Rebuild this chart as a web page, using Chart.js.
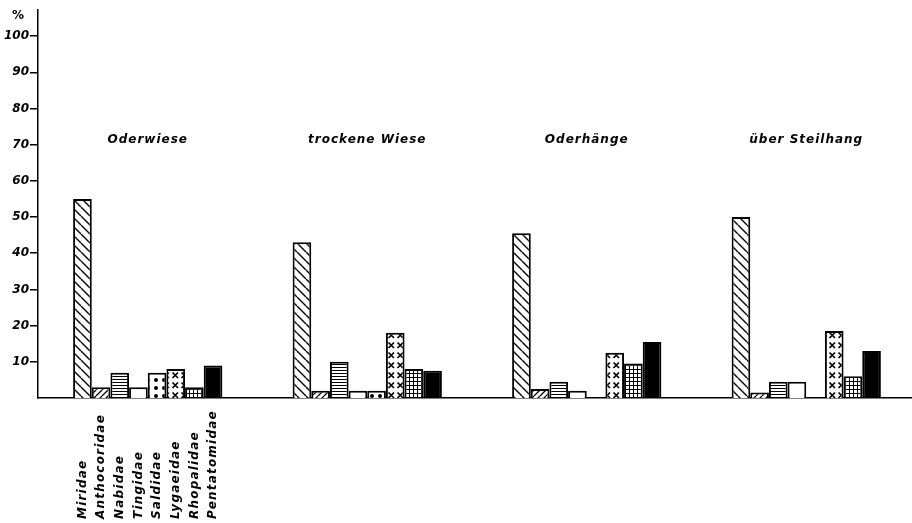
<!DOCTYPE html>
<html>
<head>
<meta charset="utf-8">
<script src="https://cdn.jsdelivr.net/npm/chart.js@4.4.1/dist/chart.umd.min.js"></script>
<style>
  html, body { margin: 0; padding: 0; background: #fff; overflow: hidden; }
  canvas { display: block; }
</style>
</head>
<body>
<canvas id="c" width="916" height="523"></canvas>
<script>
// Habitats (groups) and bug families (bars within each group)
const habitats = ['Oderwiese', 'trockene Wiese', 'Oderhänge', 'über Steilhang'];
const families = ['Miridae', 'Anthocoridae', 'Nabidae', 'Tingidae', 'Saldidae', 'Lygaeidae', 'Rhopalidae', 'Pentatomidae'];

// Share of each family per habitat, in %
const miridae       = [55, 43, 45.5, 50];
const anthocoridae  = [3, 2, 2.5, 1.5];
const nabidae       = [7, 10, 4.5, 4.5];
const tingidae      = [3, 2, 2, 4.5];
const saldidae      = [7, 2, 0, 0];
const lygaeidae     = [8, 18, 12.5, 18.5];
const rhopalidae    = [3, 8, 9.5, 6];
const pentatomidae  = [9, 7.5, 15.5, 13];

const yTicks = [10, 20, 30, 40, 50, 60, 70, 80, 90, 100];

// ---- fill patterns ----
function tile(w, h, draw) {
  const c = document.createElement('canvas');
  c.width = w; c.height = h;
  const g = c.getContext('2d');
  g.fillStyle = '#fff'; g.fillRect(0, 0, w, h);
  g.strokeStyle = '#000'; g.fillStyle = '#000';
  draw(g, w, h);
  return document.getElementById('c').getContext('2d').createPattern(c, 'repeat');
}
function hatch(s, back, lw) {
  return tile(s, s, (g) => {
    g.lineWidth = lw;
    g.beginPath();
    for (let k = -1; k <= 1; k++) {
      if (back) { g.moveTo(k * s, 0); g.lineTo(k * s + s, s); }
      else { g.moveTo(k * s, s); g.lineTo(k * s + s, 0); }
    }
    g.stroke();
  });
}
const fills = [
  hatch(9, true, 1.4),
  hatch(6, false, 1.3),
  tile(3, 3, (g) => { g.fillRect(0, 1, 3, 1); }),
  '#ffffff',
  tile(8, 8, (g) => { g.beginPath(); g.arc(4, 4, 2, 0, Math.PI * 2); g.fill(); }),
  tile(9, 10, (g) => {
    g.lineWidth = 1.7;
    g.beginPath();
    g.moveTo(1.5, 2.5); g.lineTo(7, 8);
    g.moveTo(7, 2.5); g.lineTo(1.5, 8);
    g.stroke();
  }),
  tile(4, 4, (g) => { g.fillRect(0, 1, 4, 1); g.fillRect(1, 0, 1, 4); }),
  '#000000'
];

const seriesValues = [miridae, anthocoridae, nabidae, tingidae, saldidae, lygaeidae, rhopalidae, pentatomidae];

const datasets = families.map((name, i) => ({
  label: name,
  data: seriesValues[i],
  backgroundColor: fills[i],
  borderColor: '#000',
  borderWidth: 2,
  borderSkipped: 'bottom',
  categoryPercentage: 0.68,
  barPercentage: 1.0
}));

// Habitat titles, family names under the first group and the % sign
const annotations = {
  id: 'annotations',
  afterDraw(chart) {
    const ctx = chart.ctx;
    const xs = chart.scales.x, ys = chart.scales.y;
    ctx.save();
    ctx.fillStyle = '#000';

    ctx.font = 'italic bold 12px "DejaVu Sans"';
    ctx.letterSpacing = '1px';
    ctx.textAlign = 'center';
    ctx.textBaseline = 'middle';
    habitats.forEach((h, i) => {
      ctx.fillText(h, xs.getPixelForValue(i), ys.getPixelForValue(71.4));
    });

    ctx.font = 'italic bold 12px "DejaVu Sans"';
    ctx.letterSpacing = '1.2px';
    ctx.textAlign = 'left';
    families.forEach((f, d) => {
      const bar = chart.getDatasetMeta(d).data[0];
      ctx.save();
      ctx.translate(bar.x, 519);
      ctx.rotate(-Math.PI / 2);
      ctx.fillText(f, 0, 0);
      ctx.restore();
    });

    ctx.letterSpacing = '0px';
    ctx.font = 'bold 12px "DejaVu Sans"';
    ctx.textAlign = 'center';
    ctx.fillText('%', 18, 16);
    ctx.restore();
  }
};

new Chart(document.getElementById('c'), {
  type: 'bar',
  data: { labels: habitats, datasets },
  options: {
    responsive: false,
    animation: false,
    layout: { padding: { top: 10, left: 0, right: 0, bottom: 0 } },
    plugins: { legend: { display: false }, tooltip: { enabled: false } },
    scales: {
      x: {
        grid: { display: false },
        ticks: { display: false },
        border: { display: true, color: '#000', width: 1.5 },
        afterFit(scale) { scale.height = 125; }
      },
      y: {
        min: 0,
        max: 107.2,
        afterBuildTicks(scale) {
          scale.ticks = yTicks.map(v => ({ value: v }));
        },
        ticks: {
          color: '#000',
          font: { family: 'DejaVu Sans', style: 'italic', weight: 'bold', size: 12 },
          padding: 1
        },
        grid: {
          drawOnChartArea: false,
          drawTicks: true,
          tickLength: 8,
          color: '#000',
          lineWidth: 1.5
        },
        border: { display: true, color: '#000', width: 1.5 },
        afterFit(scale) { scale.width = 38; }
      }
    }
  },
  plugins: [annotations]
});
</script>
</body>
</html>
